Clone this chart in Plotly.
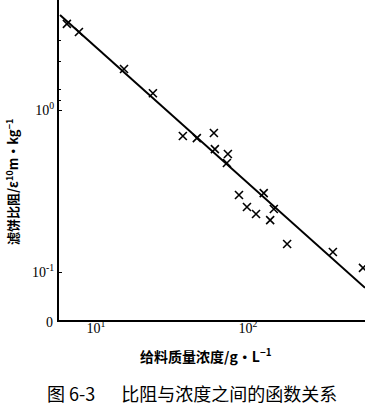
import plotly.graph_objects as go

# Data (feed concentration g/L vs specific cake resistance)
conc = [6.44, 7.73, 15.3, 23.7, 37.3, 46.1, 59.7, 60.6, 73.8, 72.7,
        87.3, 98.5, 113, 127, 140, 148, 181, 362, 571]
resist = [3.40, 3.03, 1.79, 1.27, 0.691, 0.671, 0.721, 0.574, 0.535, 0.471,
          0.299, 0.252, 0.228, 0.307, 0.209, 0.245, 0.149, 0.133, 0.106]
fit_x = [5.8, 589]
fit_y = [3.86, 0.080]

x_ticks = [10, 100]
x_ticktext = ["10<sup>1</sup>", "10<sup>2</sup>"]
y_ticks = [0.1, 1]
y_ticktext = ["10<sup>-1</sup>", "10<sup>0</sup>"]

fig = go.Figure()
fig.add_trace(go.Scatter(x=fit_x, y=fit_y, mode="lines",
                         line=dict(color="black", width=2), showlegend=False))
fig.add_trace(go.Scatter(x=conc, y=resist, mode="markers",
                         marker=dict(symbol="x-thin", size=8, color="black",
                                     line=dict(color="black", width=1.6)),
                         showlegend=False))

fig.update_layout(
    width=365, height=407,
    margin=dict(l=59, r=0, t=0, b=87),
    plot_bgcolor="white", paper_bgcolor="white",
    font=dict(family="Liberation Serif", size=13, color="black"),
    xaxis=dict(type="log", range=[0.757, 2.770], showline=True, linecolor="black",
               linewidth=2, showgrid=False, zeroline=False, ticks="",
               tickvals=x_ticks, ticktext=x_ticktext, mirror=False,
               ticklabelstandoff=-6,
               tickfont=dict(family="Liberation Serif", size=14)),
    yaxis=dict(type="log", range=[-1.296, 0.679], showline=True, linecolor="black",
               linewidth=2, showgrid=False, zeroline=False, ticks="inside",
               ticklen=3, tickcolor="black",
               tickvals=y_ticks, ticktext=y_ticktext,
               tickfont=dict(family="Liberation Serif", size=14),
               minor=dict(ticks="inside", ticklen=2, tickcolor="black",
                          tickvals=[1.15, 1.33, 2, 2.7])),
)

fig.add_annotation(xref="x domain", yref="y domain", x=-10/306, y=-2/320,
                   xanchor="center", yanchor="middle", text="0",
                   showarrow=False, font=dict(family="Liberation Serif", size=14))

fig.add_annotation(xref="paper", yref="paper", x=-47/306, y=(320-182)/320,
                   xanchor="center", yanchor="middle",
                   text="<b>滤饼比阻/ε<sup>10</sup>m•kg<sup>−1</sup></b>", textangle=-90,
                   showarrow=False, font=dict(family="Noto Sans CJK SC", size=13))
fig.add_annotation(xref="paper", yref="paper", x=(206-59)/306, y=-(355-320)/320,
                   xanchor="center", yanchor="middle",
                   text="<b>给料质量浓度/g•L<sup>−1</sup></b>",
                   showarrow=False, font=dict(family="Noto Sans CJK SC", size=14))
fig.add_annotation(xref="paper", yref="paper", x=(192-59)/306, y=-(393-320)/320,
                   xanchor="center", yanchor="middle",
                   text="图 6-3　  比阻与浓度之间的函数关系",
                   showarrow=False, font=dict(family="Noto Sans CJK SC", size=18))

fig.write_html("out.html")
